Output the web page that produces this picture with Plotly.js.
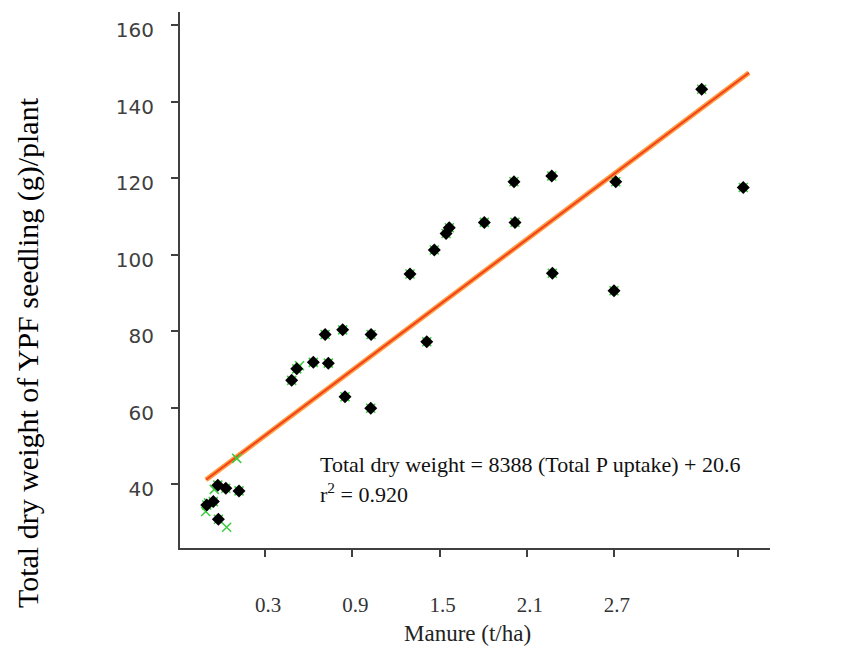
<!DOCTYPE html>
<html><head><meta charset="utf-8">
<script src="https://cdn.plot.ly/plotly-3.0.1.min.js"></script>
<style>html,body{margin:0;padding:0;background:#fff}#chart{width:853px;height:649px}</style>
</head><body><div id="chart"></div><script>
// Observed points (Manure t/ha vs total dry weight g/plant)
const manureX = [3.303, 3.589, 2.712, 2.700, 2.272, 2.276, 2.012, 2.019, 1.808, 1.567,
  1.545, 1.464, 1.297, 1.412, 1.029, 1.027, 0.834, 0.850, 0.713, 0.735,
  0.632, 0.518, 0.483, 0.121, 0.030, -0.025, -0.056, -0.101, -0.021];
const dryWeightY = [143.2, 117.5, 119.0, 90.5, 120.5, 95.1, 119.0, 108.4, 108.4, 107.0,
  105.5, 101.2, 94.9, 77.2, 79.1, 59.8, 80.3, 62.8, 79.1, 71.6,
  71.8, 70.1, 67.1, 38.2, 38.9, 39.7, 35.4, 34.5, 30.8];
// Green "x" markers that show beside the black points
const extraGreenX = [0.105, -0.049, -0.090, -0.108, 0.036, 0.537];
const extraGreenY = [46.7, 38.6, 35.1, 32.8, 28.7, 70.9];
const greenX = manureX.concat(extraGreenX);
const greenY = dryWeightY.concat(extraGreenY);
// Fitted trend line end points
const trendX = [-0.106, 3.628];
const trendY = [41.1, 147.5];
// Axis ticks
const xTickVals = [0.3, 0.9, 1.5, 2.1, 2.7, 3.553];
const xTickText = ['0.3', '0.9', '1.5', '2.1', '2.7', ' '];
const yTickVals = [40, 60, 80, 100, 120, 140, 160];

const serif = 'Liberation Serif, Times New Roman, serif';

const traces = [
  {x: trendX, y: trendY, mode: 'lines', line: {color: '#FF9F40', width: 5}, hoverinfo: 'skip'},
  {x: trendX, y: trendY, mode: 'lines', line: {color: '#F2401E', width: 2}, hoverinfo: 'skip'},
  {x: greenX, y: greenY, mode: 'markers', marker: {symbol: 'x-thin-open', size: 9, color: '#3DCC3D', line: {color: '#3DCC3D', width: 1.5}}},
  {x: manureX, y: dryWeightY, mode: 'markers', marker: {symbol: 'diamond', size: 10, color: '#000000', line: {width: 0}}}
];

const layout = {
  width: 853, height: 649,
  margin: {l: 180, r: 83, t: 12, b: 101},
  paper_bgcolor: '#ffffff', plot_bgcolor: '#ffffff',
  showlegend: false,
  xaxis: {
    range: [-0.285, 3.773], tickmode: 'array', tickvals: xTickVals, ticktext: xTickText,
    showgrid: false, zeroline: false, showline: true, linecolor: '#404040', linewidth: 2,
    ticks: 'outside', ticklen: 7, tickwidth: 2, tickcolor: '#404040',
    ticklabelstandoff: 30, ticklabelshift: 3,
    tickfont: {family: serif, size: 21, color: '#333333'}
  },
  yaxis: {
    range: [23.27, 163.4], tickmode: 'array', tickvals: yTickVals,
    showgrid: false, zeroline: false, showline: true, linecolor: '#404040', linewidth: 2,
    ticks: 'outside', ticklen: 7, tickwidth: 2, tickcolor: '#404040',
    ticklabelstandoff: 13, ticklabelshift: 5,
    tickfont: {family: 'DejaVu Sans, Verdana, sans-serif', size: 20, color: '#404040'}
  },
  annotations: [
    {xref: 'paper', yref: 'paper', x: -0.2576, y: 0.3638, xanchor: 'center', yanchor: 'middle',
     text: 'Total dry weight of YPF seedling (g)/plant', textangle: -90, showarrow: false,
     font: {family: serif, size: 30, color: '#000000'}},
    {xref: 'paper', yref: 'paper', x: 0.488, y: -0.1586, xanchor: 'center', yanchor: 'middle',
     text: 'Manure (t/ha)', showarrow: false, font: {family: serif, size: 23, color: '#222222'}},
    {xref: 'paper', yref: 'paper', x: 0.2339, y: 0.1549, xanchor: 'left', yanchor: 'middle',
     text: 'Total dry weight = 8388 (Total P uptake) + 20.6', showarrow: false,
     font: {family: serif, size: 22, color: '#111111'}},
    {xref: 'paper', yref: 'paper', x: 0.2339, y: 0.1026, xanchor: 'left', yanchor: 'middle',
     text: 'r<sup>2</sup> = 0.920', showarrow: false,
     font: {family: serif, size: 22, color: '#111111'}}
  ]
};

Plotly.newPlot('chart', traces, layout, {displayModeBar: false, staticPlot: true});
</script></body></html>
